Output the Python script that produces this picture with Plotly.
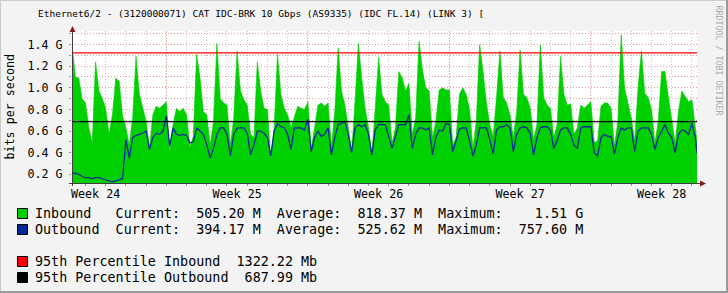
import plotly.graph_objects as go

W, H = 728, 293

title_text = "Ethernet6/2 - (3120000071) CAT IDC-BRK 10 Gbps (AS9335) (IDC FL.14) (LINK 3) ["
y_title = "bits per second"
watermark = "RRDTOOL / TOBI OETIKER"

week_labels = ["Week 24", "Week 25", "Week 26", "Week 27", "Week 28"]
week_label_hours = [28, 196, 364, 532, 700]
week_start_hours = [112, 280, 448, 616]
y_tickvals = [0.2, 0.4, 0.6, 0.8, 1.0, 1.2, 1.4]
y_ticktext = ["0.2 G", "0.4 G", "0.6 G", "0.8 G", "1.0 G", "1.2 G", "1.4 G"]

p95_in = 1.32222   # Gbps
p95_out = 0.68799  # Gbps

# Inbound traffic (Gbps), 4-hour samples, final point = current value
inbound = [
    1.405, 1.10, 1.09, 0.90, 0.86, 0.63, 0.49, 1.24, 0.97, 0.90, 0.81, 0.57, 0.75, 1.09, 1.06, 0.74, 0.63, 0.47, 0.72,
    1.29, 0.94, 0.80, 0.69, 0.44, 0.75, 0.83, 0.81, 0.84, 0.87, 0.40, 0.66, 0.81, 0.78, 0.81, 0.75, 0.45, 0.55, 1.31,
    1.09, 0.78, 0.75, 0.47, 0.69, 1.41, 0.90, 0.86, 0.84, 0.47, 0.72, 1.34, 0.97, 0.89, 0.84, 0.57, 0.54, 1.24, 0.97,
    0.81, 0.80, 0.34, 0.63, 1.31, 0.94, 0.81, 0.75, 0.63, 0.72, 0.83, 0.81, 0.80, 0.87, 0.44, 0.63, 0.84, 0.86,
    0.83, 0.86, 0.46, 0.78, 1.37, 0.97, 0.84, 0.63, 0.41, 0.87, 1.41, 1.09, 0.81, 0.63, 0.38, 0.81, 1.28, 0.94, 0.87,
    0.84, 0.49, 0.63, 1.15, 1.09, 0.97, 1.04, 0.57, 0.72, 1.43, 1.17, 1.00, 0.97, 0.54, 0.69, 0.98, 1.00, 0.98,
    0.98, 0.47, 0.54, 0.94, 1.00, 0.94, 0.80, 0.44, 0.69, 1.40, 1.15, 0.86, 0.66, 0.55, 0.91, 1.34, 0.91, 0.86, 0.75,
    0.54, 0.78, 1.35, 0.94, 0.91, 0.81, 0.52, 0.66, 1.40, 0.91, 0.84, 0.81, 0.54, 0.66, 1.29, 0.94, 0.84, 0.85,
    0.57, 0.63, 0.84, 0.81, 0.84, 0.87, 0.49, 0.51, 0.83, 0.86, 0.86, 0.81, 0.46, 0.69, 1.49, 1.00, 0.86, 0.72, 0.51,
    1.00, 1.34, 0.95, 0.91, 0.80, 0.49, 0.69, 1.15, 1.15, 0.92, 0.71, 0.49, 0.78, 0.97, 0.92, 0.87, 0.89, 0.63,
    0.505,
]

# Outbound traffic (Gbps)
outbound = [
    0.21, 0.21, 0.20, 0.18, 0.17, 0.17, 0.16, 0.17, 0.17, 0.16, 0.15, 0.14, 0.13, 0.14, 0.15, 0.16, 0.52, 0.35, 0.54,
    0.56, 0.57, 0.58, 0.60, 0.43, 0.54, 0.58, 0.57, 0.60, 0.74, 0.46, 0.63, 0.57, 0.56, 0.57, 0.56, 0.49, 0.50, 0.63,
    0.60, 0.57, 0.47, 0.35, 0.44, 0.57, 0.63, 0.63, 0.57, 0.37, 0.57, 0.63, 0.63, 0.63, 0.58, 0.38, 0.47, 0.60, 0.60,
    0.58, 0.54, 0.37, 0.60, 0.67, 0.64, 0.63, 0.57, 0.43, 0.63, 0.63, 0.63, 0.61, 0.71, 0.41, 0.54, 0.60, 0.55,
    0.57, 0.63, 0.38, 0.54, 0.66, 0.67, 0.69, 0.57, 0.40, 0.63, 0.66, 0.64, 0.66, 0.57, 0.38, 0.61, 0.66, 0.66, 0.66,
    0.55, 0.44, 0.55, 0.66, 0.66, 0.66, 0.75, 0.44, 0.57, 0.63, 0.63, 0.61, 0.63, 0.38, 0.54, 0.61, 0.60, 0.67,
    0.66, 0.41, 0.51, 0.62, 0.63, 0.63, 0.51, 0.37, 0.47, 0.63, 0.63, 0.63, 0.52, 0.39, 0.61, 0.64, 0.64, 0.66, 0.63,
    0.41, 0.57, 0.63, 0.64, 0.63, 0.58, 0.38, 0.54, 0.63, 0.64, 0.64, 0.61, 0.44, 0.51, 0.61, 0.63, 0.63, 0.57,
    0.47, 0.44, 0.63, 0.64, 0.64, 0.64, 0.40, 0.37, 0.54, 0.57, 0.55, 0.55, 0.39, 0.54, 0.63, 0.61, 0.63, 0.63, 0.41,
    0.60, 0.63, 0.63, 0.63, 0.57, 0.43, 0.54, 0.60, 0.66, 0.58, 0.54, 0.40, 0.57, 0.61, 0.60, 0.57, 0.67, 0.54,
    0.394,
]

END_HOUR = 742
hours = [4 * i for i in range(len(inbound) - 1)] + [END_HOUR]

legend_rows = [
    ("#00CF00", "Inbound   Current:  505.20 M  Average:  818.37 M  Maximum:    1.51 G"),
    ("#002A97", "Outbound  Current:  394.17 M  Average:  525.62 M  Maximum:  757.60 M"),
    ("#FF0000", "95th Percentile Inbound  1322.22 Mb"),
    ("#000000", "95th Percentile Outbound  687.99 Mb"),
]
legend_row_y = [213.5, 229.5, 261.5, 277.5]

# ---------- layout geometry (pixels) ----------
PL, PR, PT, PB = 72, 697, 31, 183
FONT = "DejaVu Sans Mono"


def fx(p):
    return p / W


def fy(p):
    return 1 - p / H


fig = go.Figure()
fig.add_trace(go.Scatter(x=hours, y=inbound, mode="lines", line=dict(color="#00CF00", width=0.6),
                         fill="tozeroy", fillcolor="#00CF00", hoverinfo="skip"))
fig.add_trace(go.Scatter(x=hours, y=outbound, mode="lines", line=dict(color="#002A97", width=1.3),
                         hoverinfo="skip"))
fig.add_trace(go.Scatter(x=[0, END_HOUR], y=[p95_in, p95_in], mode="lines",
                         line=dict(color="#FF0000", width=1.3), hoverinfo="skip"))
fig.add_trace(go.Scatter(x=[0, END_HOUR], y=[p95_out, p95_out], mode="lines",
                         line=dict(color="#000000", width=1.3), hoverinfo="skip"))

shapes = []
# weekly (major) vertical grid lines
for h in week_start_hours:
    shapes.append(dict(type="line", xref="x", yref="paper", x0=h, x1=h, y0=fy(PB), y1=fy(PT),
                       line=dict(color="#E79A9A", width=1, dash="1px,2px"), layer="below"))
# axes
shapes.append(dict(type="line", xref="paper", yref="paper", x0=fx(72.5), x1=fx(72.5), y0=fy(186), y1=fy(29),
                   line=dict(color="#404040", width=1)))
shapes.append(dict(type="line", xref="paper", yref="paper", x0=fx(69), x1=fx(701), y0=fy(183.5), y1=fy(183.5),
                   line=dict(color="#404040", width=1)))
# arrows
shapes.append(dict(type="path", xref="paper", yref="paper",
                   path=f"M {fx(69.5)} {fy(32)} L {fx(75.5)} {fy(32)} L {fx(72.5)} {fy(26)} Z",
                   fillcolor="#8B1A1A", line=dict(width=0)))
shapes.append(dict(type="path", xref="paper", yref="paper",
                   path=f"M {fx(700)} {fy(180.5)} L {fx(700)} {fy(186.5)} L {fx(706)} {fy(183.5)} Z",
                   fillcolor="#8B1A1A", line=dict(width=0)))
# legend colour boxes
for (col, _), yc in zip(legend_rows, legend_row_y):
    shapes.append(dict(type="rect", xref="paper", yref="paper", x0=fx(17.5), x1=fx(27.5),
                       y0=fy(yc - 5), y1=fy(yc + 5), fillcolor=col, line=dict(color="#000000", width=1)))
# image 3D border
shapes.append(dict(type="line", xref="paper", yref="paper", x0=0, x1=1, y0=fy(0.5), y1=fy(0.5),
                   line=dict(color="#CBCBCB", width=1)))
shapes.append(dict(type="line", xref="paper", yref="paper", x0=fx(0.5), x1=fx(0.5), y0=0, y1=1,
                   line=dict(color="#CBCBCB", width=1)))
shapes.append(dict(type="line", xref="paper", yref="paper", x0=0, x1=1, y0=fy(292), y1=fy(292),
                   line=dict(color="#999999", width=2)))
shapes.append(dict(type="line", xref="paper", yref="paper", x0=fx(727), x1=fx(727), y0=0, y1=1,
                   line=dict(color="#999999", width=2)))

nb = lambda s: s.replace(" ", "\u00a0")

annotations = [
    dict(text=nb(title_text), xref="paper", yref="paper", x=fx(36), y=fy(13.5), xanchor="left",
         yanchor="middle", showarrow=False, font=dict(family=FONT, size=9.5, color="#000000")),
    dict(text=nb(y_title), xref="paper", yref="paper", x=fx(10), y=fy(106.5), xanchor="center",
         yanchor="middle", textangle=-90, showarrow=False, font=dict(family=FONT, size=11.7, color="#000000")),
    dict(text=nb(watermark), xref="paper", yref="paper", x=fx(718.5), y=fy(60), xanchor="center",
         yanchor="middle", textangle=90, showarrow=False, font=dict(family=FONT, size=8.3, color="#AAAAAA")),
]
for (_, txt), yc in zip(legend_rows, legend_row_y):
    annotations.append(dict(text=nb(txt), xref="paper", yref="paper", x=fx(33), y=fy(yc), xanchor="left",
                            yanchor="middle", showarrow=False,
                            font=dict(family=FONT, size=13.4, color="#000000")))

fig.update_layout(
    width=W, height=H,
    margin=dict(l=0, r=0, t=0, b=0, pad=0),
    paper_bgcolor="#F3F3F3",
    plot_bgcolor="#FFFFFF",
    showlegend=False,
    xaxis=dict(
        domain=[fx(PL), fx(PR)], range=[0, END_HOUR], automargin=False,
        tickmode="array", tickvals=week_label_hours, ticktext=week_labels,
        ticks="", showgrid=False, zeroline=False, showline=False, ticklabelstandoff=2,
        tickfont=dict(family=FONT, size=11.7, color="#000000"),
        minor=dict(tick0=16, dtick=24, showgrid=True, gridcolor="#C8C8C8", griddash="1px,2px",
                   ticks="outside", ticklen=2, tickcolor="#909090"),
    ),
    yaxis=dict(
        domain=[fy(PB), fy(PT)], range=[0.12, 1.525], automargin=False,
        tickmode="array", tickvals=y_tickvals, ticktext=y_ticktext,
        ticks="outside", ticklen=2, tickcolor="#909090",
        showgrid=True, gridcolor="#E79A9A", griddash="1px,2px",
        zeroline=False, showline=False, ticklabelstandoff=4,
        tickfont=dict(family=FONT, size=11.7, color="#000000"),
        minor=dict(tick0=0, dtick=0.1, showgrid=True, gridcolor="#E79A9A", griddash="1px,2px",
                   ticks="outside", ticklen=2, tickcolor="#909090"),
    ),
    shapes=shapes,
    annotations=annotations,
)

fig.write_html("out.html")
